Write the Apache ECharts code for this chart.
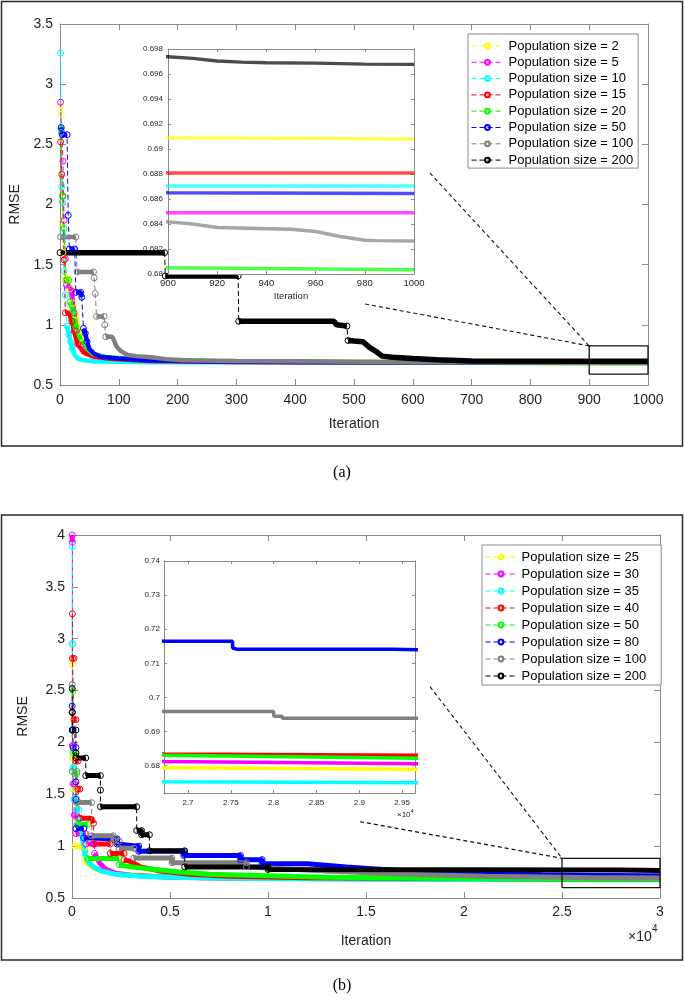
<!DOCTYPE html>
<html><head><meta charset="utf-8">
<script src="https://cdn.jsdelivr.net/npm/echarts@6/dist/echarts.min.js"></script>
<style>html,body{margin:0;padding:0;background:#fff}#c{width:685px;height:1006px}</style>
</head><body><div id="c"></div>
<script>
// ---------------- data ----------------
const namesA = ['Population size = 2','Population size = 5','Population size = 10','Population size = 15',
  'Population size = 20','Population size = 50','Population size = 100','Population size = 200'];
const namesB = ['Population size = 25','Population size = 30','Population size = 35','Population size = 40',
  'Population size = 50','Population size = 80','Population size = 100','Population size = 200'];
const colors = ['#FFFF00','#FF00FF','#00FFFF','#FF0000','#00FF00','#0000FF','#808080','#000000'];

// panel (a): [iteration, RMSE]
const a2 = [[1,2.82],[2,2.75],[3,1.85],[5,1.6],[8,1.4],[14,1.38],[18,1.3],[22,1.18],[27,1.08],[32,0.95],[38,0.85],[45,0.78],[60,0.74],[80,0.72],[120,0.705],[200,0.698],[400,0.694],[900,0.6909],[950,0.69085],[1000,0.6908]];
const a5 = [[1,2.85],[3,2.6],[5,2.36],[7,1.87],[9,1.55],[11,1.33],[16,1.32],[20,1.28],[24,1.1],[28,0.95],[35,0.82],[45,0.76],[60,0.73],[100,0.71],[200,0.695],[400,0.688],[900,0.6849],[1000,0.6849]];
const a10 = [[1,3.26],[2,2.6],[3,2.15],[4,2.02],[5,1.75],[7,1.45],[9,1.25],[12,0.99],[15,0.92],[18,0.86],[21,0.8],[25,0.75],[30,0.72],[40,0.705],[60,0.695],[150,0.69],[900,0.68704],[1000,0.68704]];
const a15 = [[1,2.52],[3,2.25],[5,2.07],[7,1.54],[9,1.1],[15,1.1],[20,1.03],[24,0.95],[30,0.84],[40,0.77],[55,0.74],[80,0.72],[150,0.70],[300,0.692],[900,0.68809],[1000,0.68809]];
const a20 = [[2,2.63],[4,2.07],[7,1.8],[10,1.37],[15,1.37],[17,1.19],[22,1.12],[27,0.98],[33,0.9],[42,0.82],[55,0.76],[80,0.73],[130,0.715],[250,0.70],[500,0.69],[900,0.6805],[1000,0.68034]];
const a50 = [[2,2.64],[4,2.58],[12,2.58],[14,1.91],[16,1.63],[25,1.63],[27,1.27],[35,1.27],[37,1.23],[40,0.97],[43,0.93],[46,0.86],[50,0.8],[58,0.76],[70,0.735],[100,0.72],[150,0.705],[250,0.695],[500,0.689],[900,0.6865],[1000,0.68645]];
const a100 = [[1,1.73],[27,1.73],[29,1.44],[57,1.44],[58,1.39],[60,1.26],[62,1.07],[75,1.07],[76,1.0],[78,0.9],[89,0.9],[92,0.87],[96,0.82],[104,0.78],[115,0.75],[130,0.74],[155,0.73],[180,0.715],[210,0.705],[300,0.70],[600,0.692],[900,0.68417],[910,0.684],[920,0.68372],[950,0.68358],[960,0.6834],[970,0.683],[980,0.6827],[985,0.68267],[1000,0.68264]];
const a200 = [[0,1.6],[178,1.6],[179,1.406],[303,1.406],[304,1.03],[466,1.03],[470,1.0],[488,0.99],[490,0.87],[500,0.865],[515,0.86],[520,0.84],[527,0.81],[537,0.78],[548,0.74],[565,0.73],[600,0.72],[640,0.71],[700,0.70],[900,0.69738],[910,0.69725],[920,0.69704],[930,0.69695],[940,0.6969],[960,0.69687],[980,0.69679],[1000,0.69677]];

// panel (b): [iteration, RMSE]
const b25 = [[20,2.75],[21,1.85],[60,1.85],[61,1.55],[150,1.55],[151,1.0],[650,0.99],[651,0.87],[800,0.83],[1000,0.80],[1300,0.77],[1800,0.75],[2500,0.735],[4000,0.715],[6000,0.70],[10000,0.69],[16000,0.685],[26720,0.6794],[30000,0.6789]];
const b30 = [[10,4.0],[20,3.93],[21,1.97],[60,1.97],[61,1.6],[120,1.6],[121,1.3],[200,1.3],[201,1.12],[700,1.12],[701,1.02],[1150,1.02],[1151,0.93],[1250,0.9],[1400,0.84],[1700,0.78],[2200,0.74],[3000,0.72],[5000,0.70],[8000,0.69],[15000,0.685],[26720,0.6812],[30000,0.6805]];
const b35 = [[10,3.89],[11,2.95],[40,2.95],[41,1.75],[100,1.75],[101,1.45],[250,1.45],[251,1.35],[350,1.35],[351,1.25],[450,1.2],[550,1.05],[650,0.92],[800,0.85],[1100,0.8],[1500,0.76],[2200,0.73],[3500,0.71],[5000,0.70],[8000,0.69],[15000,0.68],[26720,0.6753],[30000,0.675]];
const b40 = [[20,3.24],[21,2.81],[100,2.81],[101,2.22],[200,2.22],[201,1.82],[300,1.82],[301,1.55],[400,1.55],[401,1.27],[1000,1.27],[1100,1.22],[1101,1.02],[1950,1.02],[1951,0.93],[2650,0.93],[2651,0.87],[3000,0.85],[3500,0.8],[4500,0.76],[6000,0.73],[8000,0.71],[12000,0.695],[20000,0.688],[26720,0.6834],[30000,0.683]];
const b50 = [[50,2.5],[51,1.9],[150,1.9],[151,1.7],[250,1.7],[251,1.21],[800,1.21],[801,0.88],[2400,0.88],[2401,0.82],[3000,0.80],[4000,0.78],[5500,0.75],[7000,0.73],[9000,0.72],[13000,0.70],[18000,0.69],[26720,0.6831],[30000,0.6821]];
const b80 = [[10,2.35],[11,2.12],[60,2.12],[61,1.95],[200,1.95],[201,1.62],[202,1.45],[203,1.17],[600,1.17],[601,1.08],[2300,1.07],[2301,1.02],[3400,1.0],[3401,0.95],[5700,0.95],[5701,0.91],[8600,0.91],[8601,0.87],[9700,0.87],[9701,0.83],[12000,0.83],[14000,0.8],[17000,0.76],[20000,0.74],[24000,0.725],[26720,0.7165],[27520,0.7165],[27521,0.7145],[27580,0.7141],[29400,0.7141],[29401,0.7138],[30000,0.7138]];
const b100 = [[10,2.56],[11,1.72],[250,1.72],[251,1.42],[1000,1.42],[1001,1.1],[2100,1.1],[2101,1.05],[2400,1.05],[2401,0.98],[3150,0.98],[3151,0.885],[5100,0.885],[5101,0.84],[8900,0.84],[8901,0.8],[10000,0.79],[13000,0.76],[17000,0.73],[21000,0.71],[25000,0.70],[26720,0.6959],[28000,0.6959],[28001,0.6945],[28100,0.6945],[28101,0.6939],[30000,0.6939]];
const b200 = [[10,2.52],[11,2.29],[20,2.29],[21,2.12],[200,2.12],[201,1.9],[202,1.85],[700,1.85],[701,1.68],[1450,1.68],[1451,1.54],[1452,1.38],[3300,1.38],[3301,1.15],[3550,1.15],[3551,1.11],[3950,1.11],[3951,0.955],[5750,0.955],[5751,0.8],[10000,0.8],[10001,0.775],[28000,0.77],[30000,0.765]];

const seriesA = [a2, a5, a10, a15, a20, a50, a100, a200];
const seriesB = [b25, b30, b35, b40, b50, b80, b100, b200];

// zoom boxes and connector lines (data coordinates)
const boxA = [[900,0.59],[1000,0.59],[1000,0.825],[900,0.825],[900,0.59]];
const linkA1 = [[629,2.262],[900,0.825]];
const linkA2 = [[519,1.173],[900,0.825]];
const boxB = [[25000,0.60],[30000,0.60],[30000,0.883],[25000,0.883],[25000,0.60]];
const linkB1 = [[18265,2.538],[25000,0.883]];
const linkB2 = [[14694,1.236],[25000,0.883]];

// tick values for inset (b)
const insetBXTicks = [27000,27500,28000,28500,29000,29500];
const insetBYTicks = [0.68,0.69,0.70,0.71,0.72,0.73,0.74];

// ---------------- chart ----------------
const FONT = 'Liberation Sans, Arial, Helvetica, sans-serif';
const AXC = '#8a8a8a', TXC = '#1f1f1f';

function axis(grid, pos, min, max, interval, o) {
  const a = {
    gridIndex: grid, type: 'value', position: pos, min: min, max: max,
    axisLine: {show: true, onZero: false, lineStyle: {color: AXC, width: 1}},
    axisTick: {show: true, inside: true, length: o.tick, lineStyle: {color: AXC, width: 1}},
    axisLabel: {show: !!o.label, margin: o.margin || 8, fontSize: o.fs || 14, color: TXC, fontFamily: FONT},
    splitLine: {show: false}, z: o.z || 0
  };
  if (interval != null) a.interval = interval;
  if (o.fmt) a.axisLabel.formatter = o.fmt;
  if (o.ticks) { a.axisTick.customValues = o.ticks; a.axisLabel.customValues = o.ticks; }
  if (o.name) {
    a.name = o.name; a.nameLocation = 'middle'; a.nameGap = o.nameGap;
    a.nameTextStyle = {fontSize: o.nfs || 14, color: TXC, fontFamily: FONT};
  }
  return a;
}
const plain = v => String(v);

const xAxis = [
  axis(0,'bottom',0,1000,100,{tick:6,label:true,margin:8,fs:14,fmt:plain,name:'Iteration',nameGap:32}),
  axis(0,'top',0,1000,100,{tick:6}),
  axis(1,'bottom',900,1000,20,{tick:3,label:true,margin:4,fs:9.5,fmt:plain,name:'Iteration',nameGap:17,nfs:9.5,z:11}),
  axis(1,'top',900,1000,20,{tick:3,z:11}),
  axis(2,'bottom',0,30000,5000,{tick:6,label:true,margin:7,fs:14,fmt:v=>String(v/10000),name:'Iteration',nameGap:36}),
  axis(2,'top',0,30000,5000,{tick:6}),
  axis(3,'bottom',26720,29650,null,{tick:3,label:true,margin:6,fs:8,ticks:insetBXTicks,fmt:v=>String(+(v/10000).toFixed(2)),z:11}),
  axis(3,'top',26720,29650,null,{tick:3,ticks:insetBXTicks,z:11})
];
const yAxis = [
  axis(0,'left',0.5,3.5,0.5,{tick:6,label:true,margin:7,fs:14,name:'RMSE',nameGap:35}),
  axis(0,'right',0.5,3.5,0.5,{tick:6}),
  axis(1,'left',0.68,0.698,0.002,{tick:3,label:true,margin:5,fs:8,z:11,fmt:v=>String(+v.toFixed(3))}),
  axis(1,'right',0.68,0.698,0.002,{tick:3,z:11}),
  axis(2,'left',0.5,4,0.5,{tick:6,label:true,margin:7,fs:14,name:'RMSE',nameGap:42}),
  axis(2,'right',0.5,4,0.5,{tick:6}),
  axis(3,'left',0.672,0.74,null,{tick:3,label:true,margin:4,fs:8,ticks:insetBYTicks,fmt:v=>String(+v.toFixed(2)),z:11}),
  axis(3,'right',0.672,0.74,null,{tick:3,ticks:insetBYTicks,z:11})
];

const grid = [
  {left:60, top:24, width:588, height:361, outerBoundsMode:'none'},
  {left:168, top:49, width:246, height:225, show:true, backgroundColor:'#fff', borderWidth:0, z:10, outerBoundsMode:'none'},
  {left:72, top:535, width:588, height:363, outerBoundsMode:'none'},
  {left:164, top:561, width:251, height:232, show:true, backgroundColor:'#fff', borderWidth:0, z:10, outerBoundsMode:'none'}
];

// per-iteration pixel drop of a segment
function drop(p, q, pxPerY) {
  return Math.abs(q[1] - p[1]) * pxPerY / Math.max(Math.abs(q[0] - p[0]), 1);
}
// thick "bead" band: break where markers would separate (fast drops)
function band(pts, pxPerY) {
  const out = [pts[0]];
  for (let i = 1; i < pts.length; i++) {
    if (drop(pts[i-1], pts[i], pxPerY) > 6) out.push([pts[i-1][0], '-']);
    out.push(pts[i]);
  }
  return out;
}
// show a hollow marker only where it would stand apart from its neighbours
function marked(pts, pxPerY) {
  return pts.map((p, i) => {
    const s = (i > 0 && drop(pts[i-1], p, pxPerY) > 2) || (i < pts.length - 1 && drop(p, pts[i+1], pxPerY) > 2) || i === 0;
    return {value: p, symbolSize: s ? 6 : 0};
  });
}

const series = [];
const LABEL = {};
function addPanel(prefix, list, names, mainIdx, insetIdx, pxPerY, bw, insetW, insetOp) {
  list.forEach((pts, i) => {
    const c = colors[i];
    const key = prefix + i;
    LABEL[key] = names[i];
    series.push({
      type:'line', name:key, xAxisIndex:mainIdx, yAxisIndex:mainIdx, data:marked(pts, pxPerY),
      symbol:'circle', symbolSize:6, showSymbol:true,
      itemStyle:{color:'rgba(0,0,0,0)', borderColor:c, borderWidth:1},
      lineStyle:{color:c, width:1, type:[5,3]}, silent:true, z:2
    });
    series.push({
      type:'line', name:key+'band', xAxisIndex:mainIdx, yAxisIndex:mainIdx, data:band(pts, pxPerY),
      symbol:'none', connectNulls:false,
      lineStyle:{color:c, width:(i===7 && prefix==='A') ? 5.5 : bw}, silent:true, z:2
    });
  });
  list.forEach((pts, i) => {
    series.push({
      type:'line', name:prefix+i+'inset', xAxisIndex:insetIdx, yAxisIndex:insetIdx, data:pts,
      symbol:'none', lineStyle:{color:colors[i], width:insetW, opacity:insetOp}, silent:true, z:12
    });
  });
}
addPanel('A', seriesA, namesA, 0, 2, 361/3, 4.5, 3.5, 0.7);
addPanel('B', seriesB, namesB, 4, 6, 363/3.5, 5, 3.5, 1);

function decor(data, idx, dashed) {
  series.push({type:'line', data:data, xAxisIndex:idx, yAxisIndex:idx, symbol:'none', clip:false, silent:true, z:3,
    lineStyle:{color:'#111', width: dashed ? 1.1 : 1.3, type: dashed ? [4,3] : 'solid'}});
}
decor(boxA,0,false); decor(linkA1,0,true); decor(linkA2,0,true);
decor(boxB,4,false); decor(linkB1,4,true); decor(linkB2,4,true);

function legend(names, prefix, left, top, pad, iw, gap) {
  return {
    data: names.map((n,i)=>prefix+i), formatter: n => LABEL[n],
    orient:'vertical', left:left, top:top, padding:pad, itemWidth:iw, itemHeight:6, itemGap:gap,
    lineStyle:{width:1},
    borderColor:'#8a8a8a', borderWidth:1, borderRadius:0, backgroundColor:'#fff', selectedMode:false,
    textStyle:{fontSize:13, lineHeight:14, color:'#000', fontFamily:FONT}, z:20
  };
}

const graphic = [
  {type:'rect', shape:{x:1.5, y:1.5, width:681, height:444.5}, style:{fill:'none', stroke:'#2a2a2a', lineWidth:1.5}, silent:true},
  {type:'rect', shape:{x:1.5, y:515, width:681, height:445}, style:{fill:'none', stroke:'#2a2a2a', lineWidth:1.5}, silent:true},
  {type:'text', x:342, y:473, style:{text:'(a)', font:'16px "Liberation Serif", "Times New Roman", serif', fill:'#000', textAlign:'center', textVerticalAlign:'middle'}, silent:true},
  {type:'text', x:342, y:986, style:{text:'(b)', font:'16px "Liberation Serif", "Times New Roman", serif', fill:'#000', textAlign:'center', textVerticalAlign:'middle'}, silent:true},
  {type:'text', x:628, y:937, style:{text:'×10', font:'14px ' + FONT, fill:TXC, textAlign:'left', textVerticalAlign:'middle'}, silent:true},
  {type:'text', x:652, y:929, style:{text:'4', font:'10px ' + FONT, fill:TXC, textAlign:'left', textVerticalAlign:'middle'}, silent:true},
  {type:'text', x:397, y:815, style:{text:'×10', font:'8px ' + FONT, fill:TXC, textAlign:'left', textVerticalAlign:'middle'}, silent:true, z:20},
  {type:'text', x:410.5, y:811, style:{text:'4', font:'6px ' + FONT, fill:TXC, textAlign:'left', textVerticalAlign:'middle'}, silent:true, z:20}
];

const chart = echarts.init(document.getElementById('c'), null, {renderer:'canvas'});
chart.setOption({
  animation:false,
  backgroundColor:'#fff',
  textStyle:{fontFamily:FONT},
  grid: grid, xAxis: xAxis, yAxis: yAxis, series: series,
  legend: [
    legend(namesA,'A',468,34,[5,5,1,3],32,2.3),
    legend(namesB,'B',482,545,[5,15,2,3],31,3)
  ],
  graphic: graphic
});
</script></body></html>
